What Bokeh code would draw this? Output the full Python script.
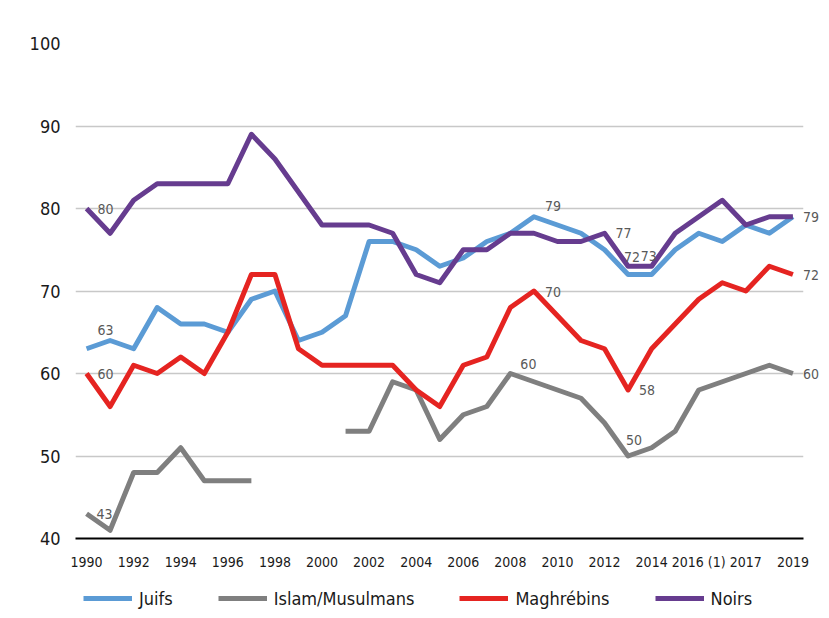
import numpy as np
from bokeh.plotting import figure
from bokeh.layouts import column
from bokeh.models import Legend, LegendItem, FixedTicker, ColumnDataSource, Range1d
from bokeh.embed import file_html
from bokeh.resources import INLINE
from bokeh.core.properties import value

# ---- data ----
years = [str(y) for y in range(1990, 2016)] + ["2016 (1)", "2016 (2)", "2017", "2018", "2019"]
juifs = [63, 64, 63, 68, 66, 66, 65, 69, 70, 64, 65, 67, 76, 76, 75, 73, 74, 76, 77, 79,
         78, 77, 75, 72, 72, 75, 77, 76, 78, 77, 79]
islam = [43, 41, 48, 48, 51, 47, 47, 47, np.nan, np.nan, np.nan, 53, 53, 59, 58, 52, 55, 56, 60, 59,
         58, 57, 54, 50, 51, 53, 58, 59, 60, 61, 60]
maghrebins = [60, 56, 61, 60, 62, 60, 65, 72, 72, 63, 61, 61, 61, 61, 58, 56, 61, 62, 68, 70,
              67, 64, 63, 58, 63, 66, 69, 71, 70, 73, 72]
noirs = [80, 77, 81, 83, 83, 83, 83, 89, 86, 82, 78, 78, 78, 77, 72, 71, 75, 75, 77, 77,
         76, 76, 77, 73, 73, 77, 79, 81, 78, 79, 79]
y_ticks = [40, 50, 60, 70, 80, 90, 100]
series_names = ["Juifs", "Islam/Musulmans", "Maghrébins", "Noirs"]

# labelled points: (series, index, dx, dy)
labels = [
    ("Noirs", 0, 11, 0), ("Juifs", 0, 11, -19), ("Maghrébins", 0, 11, 0), ("Islam/Musulmans", 0, 10, 0),
    ("Juifs", 19, 11, -11), ("Maghrébins", 19, 11, 1), ("Islam/Musulmans", 18, 10, -10),
    ("Noirs", 22, 11, 0), ("Juifs", 23, -4, -18), ("Noirs", 24, -11, -10),
    ("Maghrébins", 23, 11, 0), ("Islam/Musulmans", 23, -2, -16),
    ("Noirs", 30, 10, 0), ("Maghrébins", 30, 10, 0), ("Islam/Musulmans", 30, 10, 0),
]

FONT = "DejaVu Sans Condensed"
colors = {"Juifs": "#5B9BD5", "Islam/Musulmans": "#7F7F7F", "Maghrébins": "#E52421", "Noirs": "#663C8F"}
data = {"Juifs": juifs, "Islam/Musulmans": islam, "Maghrébins": maghrebins, "Noirs": noirs}

x = list(range(len(years)))

p = figure(frame_width=728, frame_height=495, x_range=(-0.47, 30.45), y_range=(40, 100),
           output_backend="svg", toolbar_location=None,
           min_border_left=75, min_border_right=18, min_border_top=43, min_border_bottom=40)
p.outline_line_color = None
p.xgrid.visible = False
p.ygrid.ticker = FixedTicker(ticks=y_ticks[1:])
p.ygrid.grid_line_color = "#C8C8C8"
p.ygrid.grid_line_width = 1.5

p.yaxis.ticker = FixedTicker(ticks=y_ticks)
p.yaxis.axis_line_color = None
p.yaxis.major_tick_line_color = None
p.yaxis.minor_tick_line_color = None
p.yaxis.major_label_standoff = 9
p.yaxis.major_label_text_font_size = "18px"
p.yaxis.major_label_text_font = FONT
p.yaxis.major_label_text_color = "#1A1A1A"

p.xaxis.ticker = FixedTicker(ticks=list(range(0, len(years), 2)))
p.xaxis.major_label_overrides = {i: years[i] for i in range(0, len(years), 2)}
p.xaxis.axis_line_color = "black"
p.xaxis.axis_line_width = 2
p.xaxis.major_tick_line_color = None
p.xaxis.minor_tick_line_color = None
p.xaxis.major_tick_out = 0
p.xaxis.major_tick_in = 0
p.xaxis.major_label_standoff = 15
p.xaxis.major_label_text_font_size = "14px"
p.xaxis.major_label_text_font = FONT
p.xaxis.major_label_text_color = "#1A1A1A"

for name in series_names:
    src = ColumnDataSource(dict(x=x, y=np.array(data[name], dtype=float)))
    p.line("x", "y", source=src, line_color=colors[name], line_width=5, line_join="round")

lx = [i for (_, i, _, _) in labels]
ly = [data[s][i] for (s, i, _, _) in labels]
lt = [str(int(data[s][i])) for (s, i, _, _) in labels]
ldx = [dx for (_, _, dx, _) in labels]
ldy = [dy for (_, _, _, dy) in labels]
lsrc = ColumnDataSource(dict(x=lx, y=ly, text=lt, dx=ldx, dy=ldy))
p.text("x", "y", text="text", x_offset="dx", y_offset="dy", source=lsrc,
       text_align="left", text_baseline="middle", text_font=value(FONT),
       text_font_size="14px", text_color="#595959", level="overlay")

# ---- legend strip below the chart ----
leg = figure(width=821, height=40, x_range=Range1d(0, 1), y_range=Range1d(0, 1),
             output_backend="svg", toolbar_location=None,
             x_axis_location=None, y_axis_location=None,
             min_border_left=0, min_border_right=0, min_border_top=0, min_border_bottom=0)
leg.outline_line_color = None
leg.xgrid.visible = False
leg.ygrid.visible = False
leg_renderers = {}
for name in series_names:
    # legend-only proxies, drawn outside the visible range
    leg_renderers[name] = leg.line(x=[-2, -1], y=[-2, -1], line_color=colors[name], line_width=5)

legend = Legend(items=[LegendItem(label=n, renderers=[leg_renderers[n]]) for n in series_names],
                orientation="horizontal", location=(8, 8))
legend.border_line_color = None
legend.background_fill_alpha = 0
legend.padding = 0
legend.margin = 0
legend.spacing = 45
legend.label_standoff = 7
legend.glyph_width = 49
legend.glyph_height = 24
legend.label_height = 24
legend.label_text_font = FONT
legend.label_text_font_size = "18px"
legend.label_text_color = "#1A1A1A"
leg.add_layout(legend, "center")

layout = column(p, leg, spacing=0)
open("out.html", "w").write(file_html(layout, INLINE))
